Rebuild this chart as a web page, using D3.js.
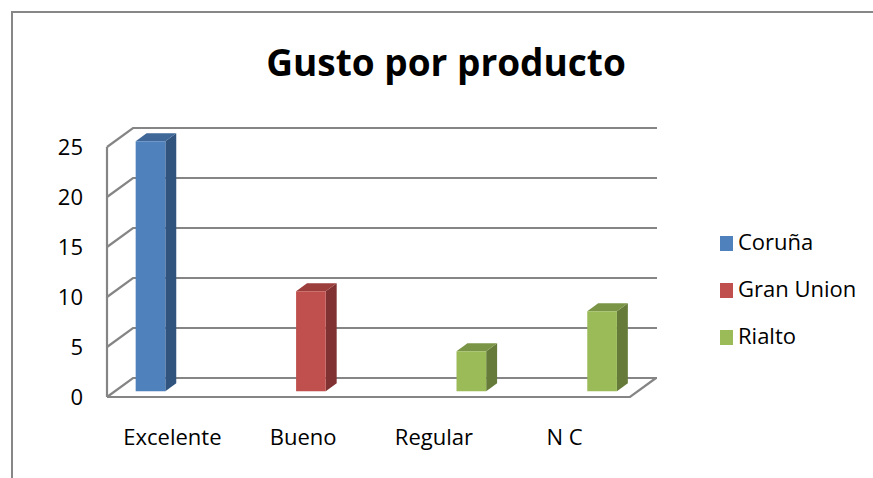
<!DOCTYPE html>
<html>
<head>
<meta charset="utf-8">
<script src="https://cdnjs.cloudflare.com/ajax/libs/d3/7.8.5/d3.min.js"></script>
<style>
  body { margin: 0; background: #fff; }
  text { font-family: "Open Sans", sans-serif; fill: #000; }
</style>
</head>
<body>
<script>
// data
var categories = ['Excelente', 'Bueno', 'Regular', 'N C'];
var seriesNames = ['Coruña', 'Gran Union', 'Rialto'];
var coruna = [25, 0, 0, 0];
var granUnion = [0, 10, 0, 0];
var rialto = [0, 0, 4, 8];
var yTicks = [0, 5, 10, 15, 20, 25];

var seriesValues = [coruna, granUnion, rialto];
var colors = [
  { front: '#4f81bd', side: '#31547f', top: '#3f6797' },
  { front: '#c0504d', side: '#7f3231', top: '#9b3e3c' },
  { front: '#9bbb59', side: '#667b3a', top: '#7b9547' }
];

var width = 873, height = 478;
var depthX = 26, depthY = -19;   // 3d offset of the back wall
var z0 = 0.3, z1 = 0.72;          // depth of the bars

var svg = d3.select('body').append('svg')
  .attr('width', width)
  .attr('height', height);

// chart border
svg.append('path')
  .attr('d', 'M12,478 L12,12 L873,12')
  .attr('fill', 'none')
  .attr('stroke', '#878787')
  .attr('stroke-width', 2);

svg.append('text')
  .attr('x', 446)
  .attr('y', 76)
  .attr('text-anchor', 'middle')
  .style('font-weight', 'bold')
  .style('font-size', '37px')
  .text('Gusto por producto');

var x0 = d3.scaleBand().domain(categories).range([107, 630]);
var groupW = 89;
var x1 = d3.scaleBand().domain(seriesNames).range([0, groupW]);
var y = d3.scaleLinear().domain([0, 25]).range([397, 147]);

function P(x, v, z) {
  return [x + z * depthX, y(v) + z * depthY];
}
var line = d3.line();

var gridColor = '#858585';
var grid = svg.append('g')
  .attr('fill', 'none')
  .attr('stroke', gridColor)
  .attr('stroke-width', 2.2);

// back wall gridlines + left wall diagonals
yTicks.forEach(function(t) {
  grid.append('path').attr('d', line([P(107, t, 0), P(107, t, 1), P(631, t, 1)]));
});
// front left edge
grid.append('path').attr('d', line([P(107, 0, 0), P(107, 25, 0)]));
// floor front and right edge
grid.append('path').attr('d', line([P(107, 0, 0), P(630, 0, 0), P(630, 0, 1)]));

// bars
var bars = [];
seriesValues.forEach(function(vals, si) {
  vals.forEach(function(v, ci) {
    if (v > 0) bars.push({ s: si, c: ci, v: v });
  });
});

var off = (x0.bandwidth() - groupW) / 2;
var barG = svg.append('g');
bars.forEach(function(b) {
  var xl = x0(categories[b.c]) + off + x1(seriesNames[b.s]);
  var xr = xl + x1.bandwidth();
  var col = colors[b.s];
  barG.append('path')
    .attr('fill', col.side)
    .attr('d', line([P(xr, 0, z0), P(xr, b.v, z0), P(xr, b.v, z1), P(xr, 0, z1)]) + 'Z');
  barG.append('path')
    .attr('fill', col.top)
    .attr('d', line([P(xl, b.v, z0), P(xr, b.v, z0), P(xr, b.v, z1), P(xl, b.v, z1)]) + 'Z');
  barG.append('path')
    .attr('fill', col.front)
    .attr('d', line([P(xl, 0, z0), P(xr, 0, z0), P(xr, b.v, z0), P(xl, b.v, z0)]) + 'Z');
});

// axes
var yAxis = svg.append('g')
  .attr('transform', 'translate(107,0)')
  .call(d3.axisLeft(y).tickValues(yTicks).tickSize(0).tickPadding(24));
yAxis.select('.domain').remove();
yAxis.selectAll('text').style('font-size', '22px').style('font-family', '"Open Sans", sans-serif').attr('fill', '#000');

var xAxis = svg.append('g')
  .attr('transform', 'translate(0,397)')
  .call(d3.axisBottom(x0).tickSize(0).tickPadding(32));
xAxis.select('.domain').remove();
xAxis.selectAll('text').style('font-size', '22px').style('font-family', '"Open Sans", sans-serif').attr('fill', '#000');

// legend
var legend = svg.append('g');
seriesNames.forEach(function(name, i) {
  var ly = 243 + i * 47;
  legend.append('rect')
    .attr('x', 720).attr('y', ly - 7)
    .attr('width', 13).attr('height', 15)
    .attr('fill', colors[i].front);
  legend.append('text')
    .attr('x', 738).attr('y', ly + 7)
    .style('font-size', '22px')
    .text(name);
});
</script>
</body>
</html>
